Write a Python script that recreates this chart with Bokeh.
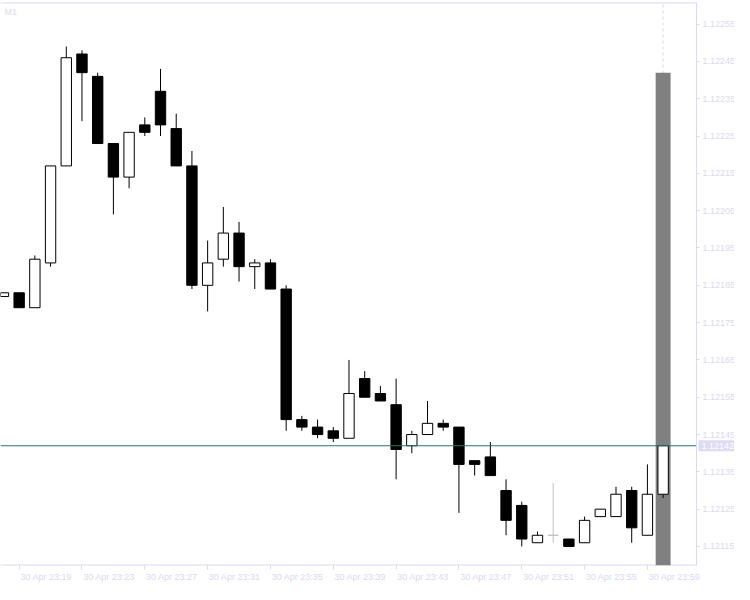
from bokeh.plotting import figure
from bokeh.models import Range1d, LinearAxis, FixedTicker, PrintfTickFormatter, Span, Label
from bokeh.embed import file_html
from bokeh.resources import INLINE
from bokeh.core.properties import value

# ---- data (M1 candles, 30 Apr 23:18 .. 1 May 00:00) ----
times = ["23:18", "23:19", "23:20", "23:21", "23:22", "23:23", "23:24", "23:25", "23:26", "23:27",
         "23:28", "23:29", "23:30", "23:31", "23:32", "23:33", "23:34", "23:35", "23:36", "23:37",
         "23:38", "23:39", "23:40", "23:41", "23:42", "23:43", "23:44", "23:45", "23:46", "23:47",
         "23:48", "23:49", "23:50", "23:51", "23:52", "23:53", "23:54", "23:55", "23:56", "23:57",
         "23:58", "23:59", "00:00"]
opens = [1.12182, 1.12183, 1.12179, 1.12191, 1.12217, 1.12247, 1.12241, 1.12223, 1.12214, 1.12228,
         1.12237, 1.12227, 1.12217, 1.12185, 1.12192, 1.12199, 1.12190, 1.12191, 1.12184, 1.12149,
         1.12147, 1.12146, 1.12144, 1.12160, 1.12156, 1.12153, 1.12142, 1.12145, 1.12148, 1.12147,
         1.12138, 1.12139, 1.12130, 1.12126, 1.12116, 1.12118, 1.12117, 1.12116, 1.12123, 1.12123,
         1.12130, 1.12118, 1.12129]
highs = [1.12183, 1.12183, 1.12193, 1.12217, 1.12249, 1.12248, 1.12242, 1.12223, 1.12226, 1.12230,
         1.12243, 1.12231, 1.12221, 1.12197, 1.12206, 1.12202, 1.12192, 1.12192, 1.12185, 1.12150,
         1.12149, 1.12147, 1.12165, 1.12162, 1.12158, 1.12160, 1.12146, 1.12154, 1.12149, 1.12147,
         1.12138, 1.12143, 1.12133, 1.12127, 1.12119, 1.12132, 1.12117, 1.12123, 1.12125, 1.12131,
         1.12131, 1.12137, 1.12142]
lows = [1.12182, 1.12179, 1.12179, 1.12190, 1.12217, 1.12229, 1.12223, 1.12204, 1.12211, 1.12225,
        1.12225, 1.12217, 1.12184, 1.12178, 1.12190, 1.12186, 1.12184, 1.12184, 1.12146, 1.12146,
        1.12144, 1.12143, 1.12144, 1.12155, 1.12154, 1.12133, 1.12140, 1.12145, 1.12146, 1.12124,
        1.12134, 1.12134, 1.12118, 1.12115, 1.12116, 1.12116, 1.12115, 1.12116, 1.12123, 1.12123,
        1.12116, 1.12118, 1.12128]
closes = [1.12183, 1.12179, 1.12192, 1.12217, 1.12246, 1.12242, 1.12223, 1.12214, 1.12226, 1.12226,
          1.12228, 1.12217, 1.12185, 1.12191, 1.12199, 1.12190, 1.12191, 1.12184, 1.12149, 1.12147,
          1.12145, 1.12144, 1.12156, 1.12155, 1.12154, 1.12141, 1.12145, 1.12148, 1.12147, 1.12137,
          1.12137, 1.12134, 1.12122, 1.12117, 1.12118, 1.12118, 1.12115, 1.12122, 1.12125, 1.12129,
          1.12120, 1.12129, 1.12142]

tick_idx = [1, 5, 9, 13, 17, 21, 25, 29, 33, 37, 41]
tick_labels = ["30 Apr " + times[i] for i in tick_idx]
price_ticks = [1.12115, 1.12125, 1.12135, 1.12145, 1.12155, 1.12165, 1.12175, 1.12185,
               1.12195, 1.12205, 1.12215, 1.12225, 1.12235, 1.12245, 1.12255]
highlight_idx = 42          # current bar marker
highlight_top = 1.12242     # top of the grey marker bar
timeframe = "M1"
bid = closes[-1]

# ---- styles / layout ----
LAV = "#d9d9f2"
FONT = "Liberation Sans"
FS = "9px"
W, H = 734, 584
LABEL_W = 38                      # px reserved right of the price axis
X0, X_AXIS = -0.1875, 44.125      # visible bar span (left edge .. price axis)
PPU = (W - LABEL_W) / (X_AXIS - X0)
X1 = X_AXIS + LABEL_W / PPU
Y0, Y1 = 1.121099, 1.122608

n = len(opens)
idx = list(range(n))
body_top = [max(o, c) for o, c in zip(opens, closes)]
body_bot = [min(o, c) for o, c in zip(opens, closes)]
fill = []
line = []
for o, c in zip(opens, closes):
    if c > o:
        fill.append("white"); line.append("black")
    elif c < o:
        fill.append("black"); line.append("black")
    else:
        fill.append("#c0c0c0"); line.append("#c0c0c0")

p = figure(width=W, height=H, output_backend="svg", toolbar_location=None,
           x_range=Range1d(X0, X1), y_range=Range1d(Y0, Y1),
           x_axis_location=None, y_axis_location=None,
           min_border_left=0, min_border_right=0, min_border_top=2, min_border_bottom=0)
p.outline_line_color = None
p.background_fill_color = "white"
p.border_fill_color = "white"
p.grid.visible = False

# bottom time axis: labels start at the tick (MT4 style)
shift = 27 / PPU
centers = [t + shift for t in tick_idx]
xaxis = LinearAxis(ticker=FixedTicker(ticks=centers, minor_ticks=tick_idx),
                   major_label_overrides={c: lab for c, lab in zip(centers, tick_labels)})
xaxis.axis_line_color = None
xaxis.major_tick_line_color = None
xaxis.major_tick_out = 4
xaxis.major_tick_in = 0
xaxis.minor_tick_line_color = LAV
xaxis.minor_tick_out = 4
xaxis.minor_tick_in = 0
xaxis.major_label_standoff = 2
xaxis.major_label_text_color = LAV
xaxis.major_label_text_font = FONT
xaxis.major_label_text_font_size = FS
p.add_layout(xaxis, "below")

# price axis drawn at the right edge of the bar area
yaxis = LinearAxis(ticker=FixedTicker(ticks=price_ticks, minor_ticks=[]),
                   formatter=PrintfTickFormatter(format="%.5f"), fixed_location=X_AXIS)
yaxis.axis_line_color = LAV
yaxis.major_tick_line_color = LAV
yaxis.major_tick_out = 3
yaxis.major_tick_in = 0
yaxis.minor_tick_line_color = None
yaxis.major_label_standoff = 3
yaxis.major_label_text_color = LAV
yaxis.major_label_text_font = FONT
yaxis.major_label_text_font_size = FS
p.add_layout(yaxis, "right")

# frame borders (top and bottom) up to the price axis
p.segment(x0=[X0, X0], y0=[Y1, Y0], x1=[X_AXIS, X_AXIS], y1=[Y1, Y0],
          line_color=LAV, line_width=2)

# current-bar dashed line and grey marker
p.segment(x0=[highlight_idx], y0=[Y0], x1=[highlight_idx], y1=[Y1],
          line_color=LAV, line_dash="3 3", line_width=1)
p.vbar(x=[highlight_idx], width=0.95, top=[highlight_top], bottom=[Y0],
       fill_color="#808080", line_color=None)

# candles
p.segment(x0=idx, y0=lows, x1=idx, y1=highs, line_color=line, line_width=1)
p.vbar(x=idx, width=0.66, top=body_top, bottom=body_bot,
       fill_color=fill, line_color=line, line_width=1)

# bid line and its price tag
p.segment(x0=[X0], y0=[bid], x1=[X_AXIS], y1=[bid], line_color="#2f706d", line_width=1)
p.rect(x=[X_AXIS + 21 / PPU], y=[bid], width=38, height=11,
       width_units="screen", height_units="screen",
       fill_color="#dcdcf2", line_color=None)
p.text(x=[X_AXIS], y=[bid], text=[f"{bid:.5f}"], x_offset=5,
       text_baseline="middle", text_align="left", text_color="white",
       text_font=value(FONT), text_font_size=FS)

p.add_layout(Label(x=X0, y=Y1, x_offset=4, y_offset=-4, text=timeframe,
                   text_baseline="top", text_color=LAV, text_font=FONT, text_font_size=FS))

open("out.html", "w").write(file_html(p, INLINE))
